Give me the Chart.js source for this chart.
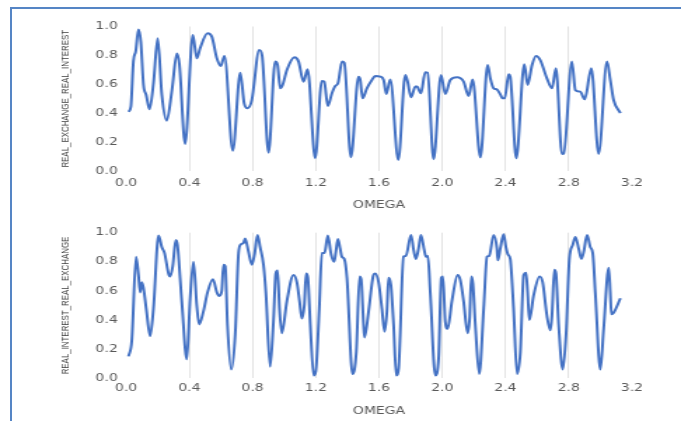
<!DOCTYPE html>
<html>
<head>
<meta charset="utf-8">
<script src="https://cdn.jsdelivr.net/npm/chart.js@4.4.1/dist/chart.umd.min.js"></script>
<style>
html,body{margin:0;padding:0;background:#fff;width:681px;height:421px;overflow:hidden;position:relative}
#frame{position:absolute;left:10px;top:7px;width:700px;height:450px;border:2px solid #5585c5;box-sizing:border-box}
.wrap{position:absolute;left:0;width:486px;transform:scaleX(1.4012);transform-origin:0 0}
#w1{top:0;height:210px}
#w2{top:210px;height:211px}
</style>
</head>
<body>
<div id="frame"></div>
<div class="wrap" id="w1"><canvas id="c1"></canvas></div>
<div class="wrap" id="w2"><canvas id="c2"></canvas></div>
<script>
// ---- data ----
const omegaTop = [0.015,0.030,0.046,0.061,0.078,0.093,0.110,0.127,0.148,0.173,0.200,0.226,0.257,0.290,0.321,0.337,0.373,0.422,0.447,0.468,0.515,0.542,0.574,0.599,0.622,0.675,0.722,0.747,0.768,0.795,0.842,0.860,0.901,0.943,0.958,0.975,0.990,1.017,1.065,1.091,1.122,1.148,1.196,1.238,1.253,1.276,1.302,1.323,1.340,1.366,1.380,1.422,1.470,1.481,1.496,1.523,1.555,1.576,1.608,1.629,1.646,1.671,1.722,1.766,1.781,1.802,1.830,1.840,1.865,1.892,1.907,1.945,1.992,2.019,2.051,2.093,2.135,2.167,2.192,2.241,2.287,2.304,2.325,2.345,2.367,2.382,2.395,2.420,2.430,2.468,2.519,2.540,2.568,2.593,2.620,2.662,2.694,2.719,2.757,2.768,2.820,2.842,2.873,2.901,2.943,2.989,3.042,3.063,3.084,3.127];
const realExchangeRealInterest = [0.41,0.445,0.76,0.83,0.98,0.895,0.595,0.526,0.427,0.607,0.918,0.526,0.348,0.56,0.814,0.74,0.187,0.941,0.78,0.849,0.953,0.93,0.78,0.727,0.796,0.141,0.68,0.468,0.434,0.49,0.837,0.80,0.127,0.757,0.734,0.572,0.595,0.699,0.787,0.757,0.618,0.704,0.088,0.623,0.618,0.45,0.538,0.588,0.607,0.757,0.75,0.095,0.653,0.63,0.503,0.572,0.63,0.657,0.653,0.63,0.533,0.634,0.076,0.664,0.618,0.51,0.584,0.584,0.538,0.683,0.68,0.081,0.664,0.533,0.63,0.648,0.618,0.519,0.634,0.095,0.734,0.641,0.572,0.565,0.53,0.503,0.503,0.669,0.653,0.088,0.738,0.595,0.734,0.796,0.768,0.641,0.572,0.711,0.118,0.12,0.757,0.56,0.549,0.496,0.711,0.118,0.757,0.63,0.491,0.40];

const omegaBottom = [0.015,0.036,0.063,0.078,0.089,0.099,0.110,0.127,0.152,0.173,0.205,0.226,0.243,0.268,0.278,0.295,0.314,0.325,0.352,0.384,0.405,0.426,0.447,0.462,0.489,0.515,0.549,0.574,0.589,0.605,0.616,0.627,0.641,0.665,0.690,0.711,0.726,0.743,0.753,0.774,0.795,0.812,0.831,0.848,0.869,0.884,0.911,0.932,0.947,0.958,0.970,0.985,1.017,1.059,1.080,1.097,1.112,1.127,1.139,1.150,1.165,1.186,1.200,1.222,1.238,1.255,1.276,1.297,1.316,1.327,1.340,1.354,1.365,1.380,1.397,1.432,1.456,1.477,1.487,1.502,1.508,1.534,1.565,1.576,1.597,1.618,1.635,1.650,1.660,1.675,1.692,1.709,1.724,1.755,1.770,1.802,1.819,1.833,1.850,1.865,1.886,1.897,1.909,1.924,1.956,1.977,1.994,2.004,2.019,2.034,2.061,2.097,2.114,2.135,2.160,2.173,2.184,2.194,2.209,2.234,2.262,2.283,2.297,2.325,2.346,2.352,2.367,2.388,2.403,2.416,2.430,2.451,2.473,2.494,2.515,2.530,2.540,2.551,2.578,2.616,2.635,2.662,2.684,2.694,2.709,2.719,2.736,2.762,2.783,2.804,2.825,2.842,2.863,2.880,2.895,2.916,2.937,2.952,2.968,3.000,3.021,3.053,3.063,3.070,3.084,3.127];
const realInterestRealExchange = [0.15,0.26,0.835,0.71,0.59,0.66,0.62,0.48,0.29,0.48,0.98,0.90,0.86,0.72,0.70,0.77,0.95,0.915,0.53,0.13,0.55,0.80,0.50,0.37,0.46,0.59,0.68,0.59,0.565,0.60,0.78,0.77,0.37,0.06,0.30,0.86,0.92,0.93,0.96,0.87,0.78,0.85,0.985,0.90,0.78,0.59,0.08,0.39,0.72,0.74,0.48,0.31,0.53,0.71,0.66,0.53,0.41,0.50,0.72,0.69,0.37,0.02,0.05,0.48,0.86,0.86,0.98,0.85,0.80,0.87,0.957,0.89,0.835,0.82,0.69,0.03,0.18,0.70,0.68,0.37,0.28,0.46,0.71,0.72,0.66,0.48,0.32,0.46,0.69,0.64,0.37,0.02,0.07,0.835,0.84,0.985,0.88,0.82,0.89,0.985,0.88,0.835,0.84,0.59,0.02,0.14,0.69,0.70,0.39,0.34,0.53,0.71,0.675,0.53,0.31,0.41,0.70,0.65,0.37,0.03,0.48,0.835,0.84,0.985,0.89,0.81,0.89,0.99,0.90,0.85,0.82,0.48,0.03,0.18,0.71,0.725,0.59,0.40,0.57,0.70,0.66,0.43,0.33,0.43,0.745,0.72,0.37,0.06,0.30,0.82,0.915,0.97,0.89,0.82,0.87,0.985,0.90,0.86,0.59,0.06,0.34,0.76,0.59,0.44,0.45,0.55];

const xTicks = [0.0,0.4,0.8,1.2,1.6,2.0,2.4,2.8,3.2];
const yTicks = [0.0,0.2,0.4,0.6,0.8,1.0];
const xTitle = 'OMEGA';
const titleTop = 'REAL_EXCHANGE_REAL_INTEREST';
const titleBottom = 'REAL_INTEREST_REAL_EXCHANGE';

Chart.defaults.font.family = "'DejaVu Sans', sans-serif";

function makeChart(id, xs, ys, yTitle, L) {
  const pts = xs.map((x, i) => ({x: x, y: ys[i]}));
  return new Chart(document.getElementById(id), {
    type: 'line',
    data: { datasets: [{ data: pts, borderColor: '#4472c4', borderWidth: 2, pointRadius: 0, fill: false, cubicInterpolationMode: 'monotone' }] },
    options: {
      animation: false,
      responsive: true,
      maintainAspectRatio: false,
      devicePixelRatio: 1,
      layout: { padding: { top: L.top, right: 35, bottom: 0, left: 0 } },
      plugins: { legend: { display: false }, tooltip: { enabled: false } },
      scales: {
        x: {
          type: 'linear', min: 0, max: 3.2,
          afterBuildTicks: s => { s.ticks = xTicks.map(v => ({value: v})); },
          afterFit: s => { s.height = L.xh; },
          ticks: { padding: L.xpad, color: '#595959', font: { size: 10, lineHeight: 1.2 }, maxRotation: 0, autoSkip: false,
                   callback: v => Number(v).toFixed(1) },
          grid: { drawTicks: false, lineWidth: 1,
                  color: c => (c.tick && (c.tick.value === 0 || c.tick.value === 3.2)) ? 'rgba(0,0,0,0)' : '#e3e3e3' },
          border: { display: false },
          title: { display: true, text: xTitle, color: '#595959', font: { size: 10, lineHeight: 1 }, padding: { top: 0, bottom: L.tpad } }
        },
        y: {
          type: 'linear', min: 0, max: 1,
          afterBuildTicks: s => { s.ticks = yTicks.map(v => ({value: v})); },
          afterFit: s => { s.width = 90; },
          ticks: { padding: 6, color: '#595959', font: { size: 10, lineHeight: 1.2 }, callback: v => Number(v).toFixed(1) },
          grid: { display: false, drawTicks: false },
          border: { display: false },
          title: { display: true, text: yTitle, color: '#404040',
                   font: { family: "'Liberation Sans Narrow', 'Liberation Sans', sans-serif", size: 7.9, lineHeight: 1 },
                   padding: { top: 42.4, bottom: 0 } }
        }
      }
    }
  });
}

makeChart('c1', omegaTop, realExchangeRealInterest, titleTop, { top: 26.5, xh: 39, xpad: 6.7, tpad: 0 });
makeChart('c2', omegaBottom, realInterestRealExchange, titleBottom, { top: 22.7, xh: 42.7, xpad: 4.5, tpad: 4.3 });
</script>
</body>
</html>
